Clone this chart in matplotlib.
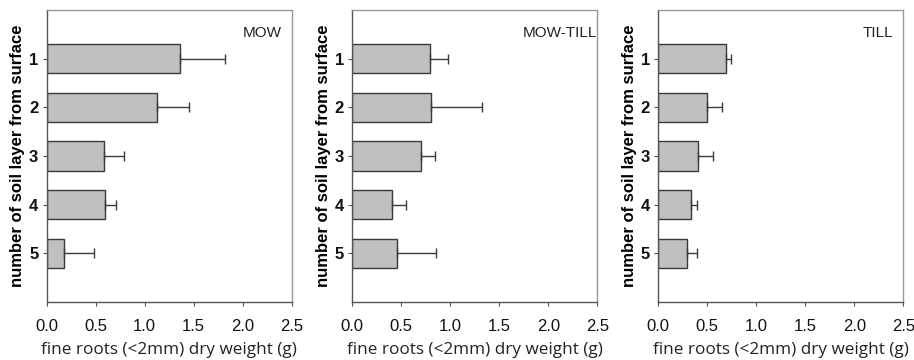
import numpy as np
import matplotlib
matplotlib.use("Agg")
import matplotlib.pyplot as plt

# === DATA ===
layers = [1, 2, 3, 4, 5]
panel_names = ["MOW", "MOW-TILL", "TILL"]
mow_mean = [1.36, 1.13, 0.58, 0.59, 0.18]
mow_err = [0.46, 0.32, 0.21, 0.12, 0.30]
mowtill_mean = [0.79, 0.80, 0.70, 0.41, 0.46]
mowtill_err = [0.19, 0.52, 0.14, 0.14, 0.39]
till_mean = [0.69, 0.50, 0.41, 0.33, 0.29]
till_err = [0.05, 0.15, 0.15, 0.06, 0.10]
x_ticks = [0.0, 0.5, 1.0, 1.5, 2.0, 2.5]

means = [mow_mean, mowtill_mean, till_mean]
errs = [mow_err, mowtill_err, till_err]

plt.rcParams["font.family"] = ["Liberation Sans", "DejaVu Sans"]

fig = plt.figure(figsize=(9.14, 3.6), dpi=100)
lefts = [46.7, 352.3, 658.3]
label_x = [0.96, 1.0, 0.96]
W, H = 914.0, 360.0

for i in range(3):
    ax = fig.add_axes([lefts[i] / W, (H - 302) / H, 245 / W, 292 / H])
    m = np.array(means[i])
    e = np.array(errs[i])
    ax.barh(layers, m, height=0.6, color="#c0c0c0", edgecolor="#3a3a3a", linewidth=1.0,
            xerr=[np.zeros_like(e), e], capsize=3.5,
            error_kw=dict(ecolor="#3a3a3a", elinewidth=1.0, capthick=1.0))
    ax.set_xlim(0, 2.5)
    ax.set_ylim(6, 0)
    ax.set_xticks(x_ticks)
    ax.set_xticklabels([f"{t:.1f}" for t in x_ticks], fontsize=12, color="#111111")
    ax.set_yticks(layers)
    ax.set_yticklabels([str(l) for l in layers], fontsize=12, fontweight="bold", color="#111111")
    ax.tick_params(axis="both", direction="out", length=3, color="#555555", pad=3)
    ax.tick_params(axis="x", pad=9)
    for s in ["left", "bottom"]:
        ax.spines[s].set_color("#555555")
        ax.spines[s].set_linewidth(1.0)
    for s in ["top", "right"]:
        ax.spines[s].set_color("#999999")
        ax.spines[s].set_linewidth(1.0)
    ax.set_ylabel("number of soil layer from surface", fontsize=12, fontweight="bold", labelpad=3)
    ax.set_xlabel("fine roots (<2mm) dry weight (g)", fontsize=12.3,
                  family=["Open Sans", "DejaVu Sans"], labelpad=6, color="#222222")
    ax.text(label_x[i], 0.92, panel_names[i], transform=ax.transAxes, ha="right", va="center",
            fontsize=11, color="#222222")

fig.savefig("out.png", dpi=100)
